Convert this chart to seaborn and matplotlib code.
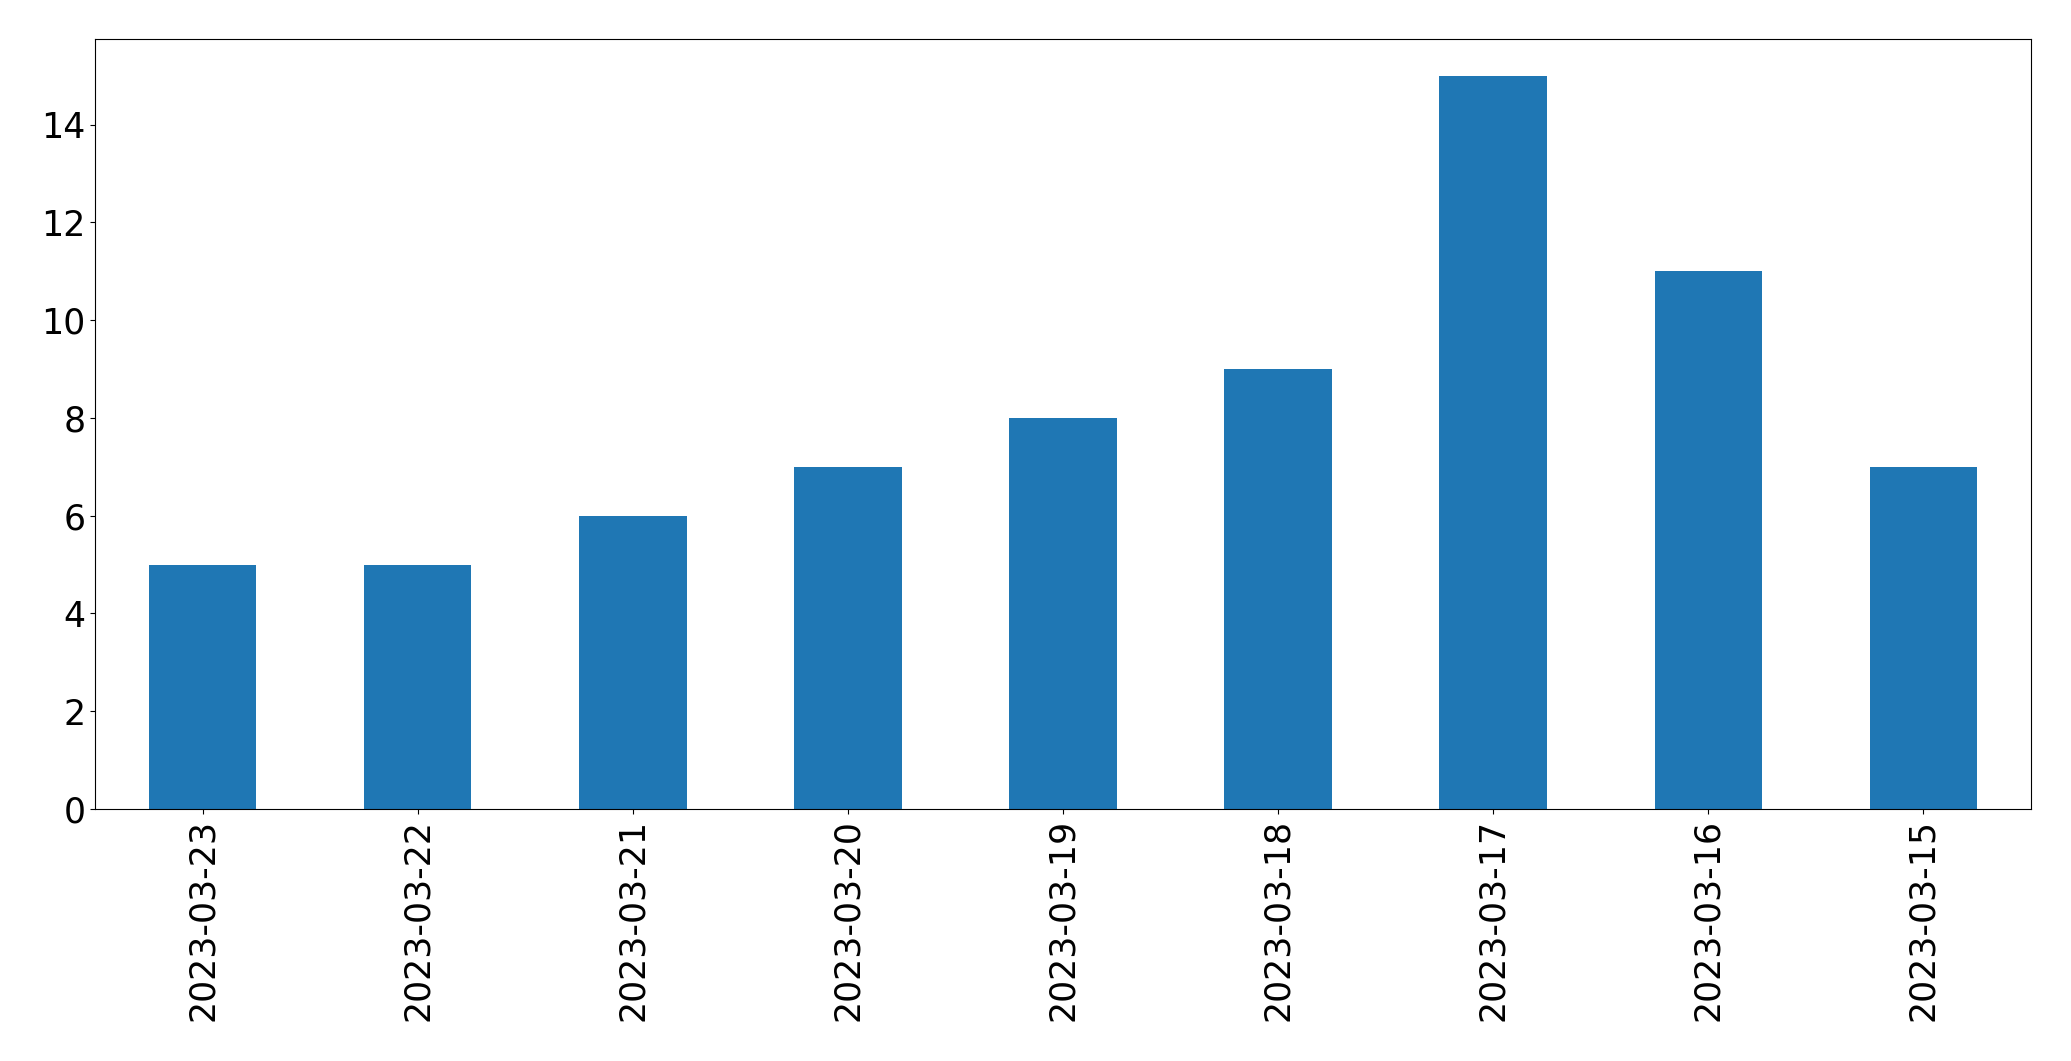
import pandas as pd
import matplotlib
matplotlib.use("Agg")
import matplotlib.pyplot as plt
import seaborn as sns

# Data
dates = ["2023-03-23", "2023-03-22", "2023-03-21", "2023-03-20", "2023-03-19",
         "2023-03-18", "2023-03-17", "2023-03-16", "2023-03-15"]
counts = [5, 5, 6, 7, 8, 9, 15, 11, 7]

df = pd.DataFrame({"date": dates, "count": counts})

fig, ax = plt.subplots(figsize=(20.71, 10.61), dpi=100)
fig.subplots_adjust(left=0.0459, right=0.9807, top=0.9632, bottom=0.2375)

sns.barplot(data=df, x="date", y="count", color="#1f77b4", saturation=1,
            width=0.5, ax=ax)

ax.set_xlim(-0.5, len(dates) - 0.5)
ax.set_ylim(0, max(counts) * 1.05)
ax.set_xlabel("")
ax.set_ylabel("")
ax.tick_params(axis="both", labelsize=25)
ax.tick_params(axis="x", rotation=90)

fig.savefig("out.png", dpi=100)
